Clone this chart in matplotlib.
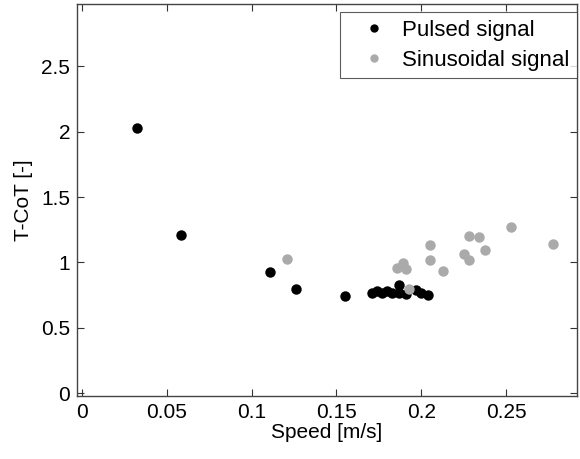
import matplotlib.pyplot as plt

plt.rcParams["font.family"] = ["Liberation Sans", "DejaVu Sans"]

# pulsed signal: speed [m/s], T-CoT [-]
pulsed_speed = [0.032, 0.058, 0.111, 0.126, 0.155,
                0.171, 0.174, 0.177, 0.180, 0.183, 0.187, 0.187,
                0.191, 0.197, 0.200, 0.204]
pulsed_cot = [2.03, 1.21, 0.925, 0.80, 0.74,
              0.763, 0.782, 0.763, 0.782, 0.763, 0.826, 0.767,
              0.757, 0.787, 0.767, 0.750]

# sinusoidal signal
sine_speed = [0.121, 0.1855, 0.189, 0.191, 0.193, 0.205, 0.205, 0.213,
              0.2255, 0.228, 0.228, 0.234, 0.2375, 0.253, 0.278]
sine_cot = [1.024, 0.961, 0.992, 0.953, 0.80, 1.131, 1.017, 0.935,
            1.063, 1.022, 1.203, 1.193, 1.096, 1.272, 1.141]

xticks = [0, 0.05, 0.1, 0.15, 0.2, 0.25]
yticks = [0, 0.5, 1, 1.5, 2, 2.5]

FS = 15

fig = plt.figure(figsize=(5.8, 4.59), dpi=100)
ax = fig.add_axes([0.1328, 0.1373, 0.862, 0.854])

ax.plot(pulsed_speed, pulsed_cot, "o", color="black", markersize=7.5,
        markeredgewidth=0, label="Pulsed signal")
ax.plot(sine_speed, sine_cot, "o", color="#aaaaaa", markersize=7.5,
        markeredgewidth=0, label="Sinusoidal signal")

ax.set_xlim(-0.0031, 0.2919)
ax.set_ylim(-0.021, 2.976)
ax.set_xticks(xticks)
ax.set_xticklabels(["0", "0.05", "0.1", "0.15", "0.2", "0.25"])
ax.set_yticks(yticks)
ax.set_yticklabels(["0", "0.5", "1", "1.5", "2", "2.5"])
ax.tick_params(direction="in", length=5, top=True, right=True,
               labelsize=FS, color="#333333", pad=5)
for spine in ax.spines.values():
    spine.set_color("#444444")
    spine.set_linewidth(1.0)

ax.set_xlabel("Speed [m/s]", fontsize=FS, labelpad=1)
ax.set_ylabel("T-CoT [-]", fontsize=FS, labelpad=6)

leg = ax.legend(loc="upper right", bbox_to_anchor=(1.0, 1 - 8 / 392),
                fontsize=16, frameon=True, fancybox=False,
                borderaxespad=0, handletextpad=0.12, borderpad=0.35,
                labelspacing=0.4, handlelength=2.3, markerscale=0.8)
leg.get_frame().set_edgecolor("#333333")
leg.get_frame().set_linewidth(0.8)

fig.savefig("out.png", dpi=100)
